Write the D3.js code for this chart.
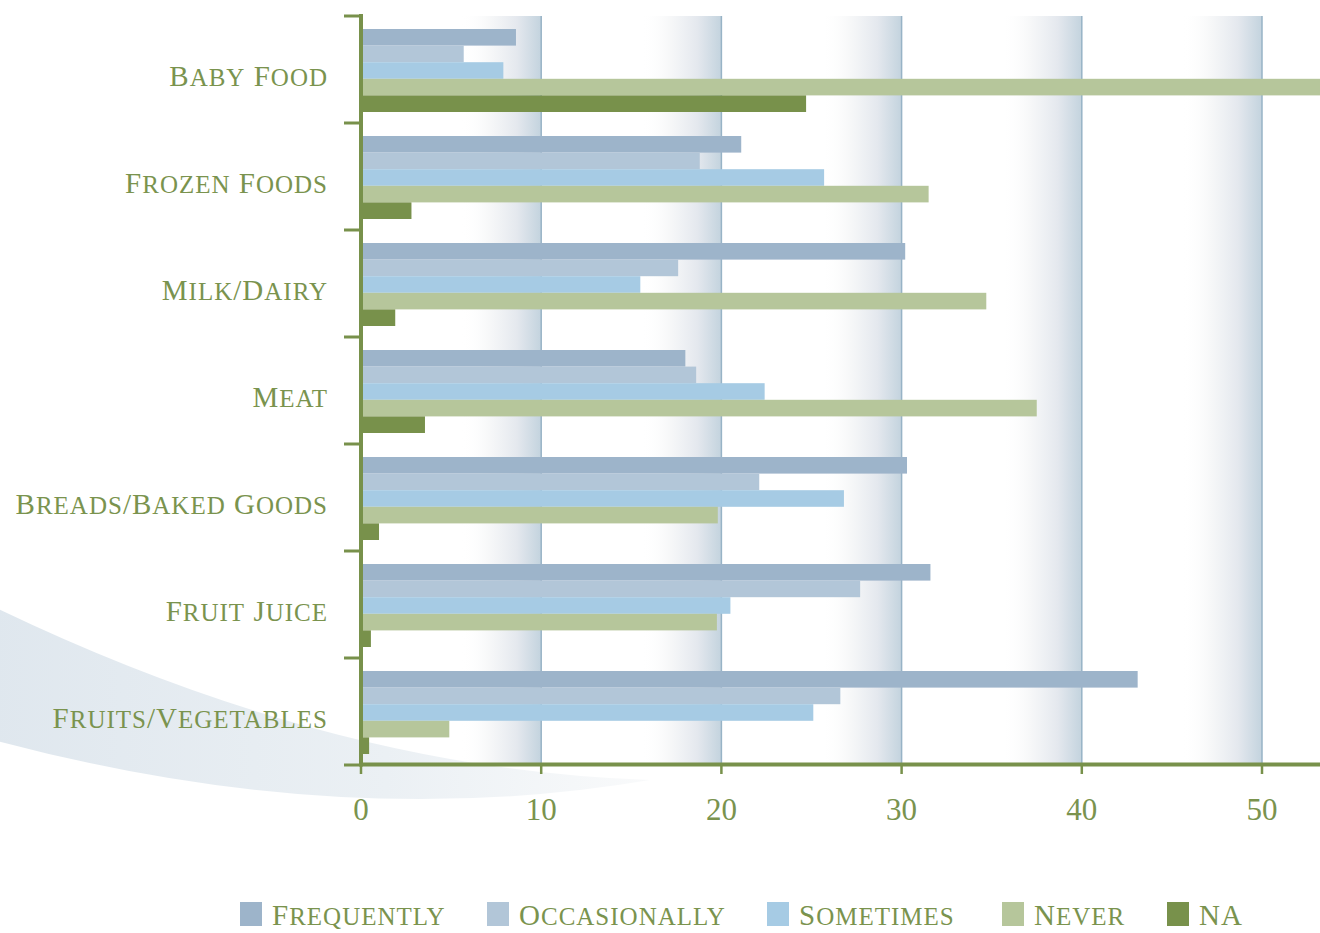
<!DOCTYPE html>
<html>
<head>
<meta charset="utf-8">
<script src="https://cdn.jsdelivr.net/npm/d3@7"></script>
<style>
  html, body { margin: 0; padding: 0; background: #ffffff; }
  svg { display: block; }
  .lbl { font-family: "Liberation Serif", serif; font-variant: small-caps; fill: #7a934e; }
</style>
</head>
<body>
<svg id="chart" width="1320" height="933"></svg>
<script>
const categories = ["Baby Food", "Frozen Foods", "Milk/Dairy", "Meat", "Breads/Baked Goods", "Fruit Juice", "Fruits/Vegetables"];
const seriesNames = ["Frequently", "Occasionally", "Sometimes", "Never", "NA"];
const frequently   = [8.6, 21.1, 30.2, 18.0, 30.3, 31.6, 43.1];
const occasionally = [5.7, 18.8, 17.6, 18.6, 22.1, 27.7, 26.6];
const sometimes    = [7.9, 25.7, 15.5, 22.4, 26.8, 20.5, 25.1];
const never        = [58.0, 31.5, 34.7, 37.5, 19.8, 19.75, 4.9];
const na           = [24.7, 2.8, 1.9, 3.55, 1.0, 0.55, 0.45];
const tickValues = [0, 10, 20, 30, 40, 50];
const colors = ["#9db4ca", "#b2c6d8", "#a6cbe4", "#b6c69b", "#78914b"];
const green = "#78914b";

const seriesValues = [frequently, occasionally, sometimes, never, na];

const svg = d3.select("#chart");
const defs = svg.append("defs");

// swoosh gradient
const sg = defs.append("linearGradient").attr("id", "swoosh").attr("x1", "0").attr("x2", "1").attr("y1", "0").attr("y2", "0");
sg.append("stop").attr("offset", "0").attr("stop-color", "#dfe7ee");
sg.append("stop").attr("offset", "0.6").attr("stop-color", "#ebf0f4");
sg.append("stop").attr("offset", "1").attr("stop-color", "#f9fafb");

// band gradient
const bg = defs.append("linearGradient").attr("id", "band").attr("x1", "0").attr("x2", "1").attr("y1", "0").attr("y2", "0");
bg.append("stop").attr("offset", "0").attr("stop-color", "#ffffff").attr("stop-opacity", 0);
bg.append("stop").attr("offset", "0.35").attr("stop-color", "#f6f7f8").attr("stop-opacity", 0.9);
bg.append("stop").attr("offset", "0.7").attr("stop-color", "#e4e8ee").attr("stop-opacity", 1);
bg.append("stop").attr("offset", "1").attr("stop-color", "#c3d3de").attr("stop-opacity", 1);

const x = d3.scaleLinear().domain([0, 50]).range([361, 1262]);
const y = d3.scaleBand().domain(categories).range([16, 765]).padding(0);
const yInner = d3.scaleBand().domain(seriesNames).range([13, 96]).padding(0);

// small-caps text helper: lowercase runs get a larger size so the synthesized small caps are tall
function smallCaps(sel, base) {
  sel.each(function(d) {
    const t = d3.select(this);
    const parts = String(d).match(/[a-z]+|[^a-z]+/g) || [];
    parts.forEach(p => {
      t.append("tspan")
        .attr("font-size", /[a-z]/.test(p) ? base * 1.24 : base)
        .text(p);
    });
  });
}

// background swoosh
svg.append("path")
  .attr("d", "M-10,605 Q330,770 650,780 Q338,833 -10,739 Z")
  .attr("fill", "url(#swoosh)");

// gradient bands + gridlines
const plotTop = y.range()[0], plotBottom = y.range()[1];
const bandW = 80;
svg.append("g").selectAll("rect")
  .data(tickValues.slice(1))
  .join("rect")
  .attr("x", d => x(d) - bandW)
  .attr("y", plotTop)
  .attr("width", bandW)
  .attr("height", plotBottom - plotTop)
  .attr("fill", "url(#band)");
svg.append("g").selectAll("line")
  .data(tickValues.slice(1))
  .join("line")
  .attr("x1", d => x(d)).attr("x2", d => x(d))
  .attr("y1", plotTop).attr("y2", plotBottom)
  .attr("stroke", "#97b3c6").attr("stroke-width", 1.5);

// bars
const groups = svg.append("g").selectAll("g")
  .data(categories)
  .join("g")
  .attr("transform", d => `translate(0,${y(d)})`);
groups.selectAll("rect")
  .data((c, ci) => seriesNames.map((s, si) => ({ s, si, v: seriesValues[si][ci] })))
  .join("rect")
  .attr("x", x(0))
  .attr("y", d => yInner(d.s))
  .attr("width", d => x(d.v) - x(0))
  .attr("height", yInner.bandwidth())
  .attr("fill", d => colors[d.si]);

// y axis
const ax = svg.append("g");
ax.append("line").attr("x1", x(0)).attr("x2", x(0)).attr("y1", plotTop - 2).attr("y2", plotBottom + 1.5)
  .attr("stroke", green).attr("stroke-width", 4);
const yTicks = categories.map(c => y(c)).concat([plotBottom]);
ax.selectAll(".yt").data(yTicks).join("line").attr("class", "yt")
  .attr("x1", 344).attr("x2", x(0)).attr("y1", d => d).attr("y2", d => d)
  .attr("stroke", green).attr("stroke-width", 3);

// x axis
ax.append("line").attr("x1", x(0)).attr("x2", 1320).attr("y1", plotBottom - 0.5).attr("y2", plotBottom - 0.5)
  .attr("stroke", green).attr("stroke-width", 4);
ax.selectAll(".xt").data(tickValues).join("line").attr("class", "xt")
  .attr("x1", d => x(d)).attr("x2", d => x(d)).attr("y1", plotBottom).attr("y2", plotBottom + 9)
  .attr("stroke", green).attr("stroke-width", 2.5);
ax.selectAll(".xl").data(tickValues).join("text").attr("class", "lbl xl")
  .attr("x", d => x(d)).attr("y", 820).attr("text-anchor", "middle")
  .attr("font-size", 31).text(d => d);

// category labels
svg.append("g").selectAll("text").data(categories).join("text")
  .attr("class", "lbl")
  .attr("x", 328).attr("y", d => y(d) + y.bandwidth() / 2 + 16)
  .attr("text-anchor", "end")
  .attr("font-size", 29)
  .attr("letter-spacing", 1)
  .call(smallCaps, 29);

// legend
const legendX = [240, 487, 767, 1002, 1167];
const lg = svg.append("g").selectAll("g").data(seriesNames).join("g")
  .attr("transform", (d, i) => `translate(${legendX[i]},0)`);
lg.append("rect").attr("x", 0).attr("y", 902).attr("width", 22).attr("height", 24)
  .attr("fill", (d, i) => colors[i]);
lg.append("text").attr("class", "lbl").attr("x", 32).attr("y", 925)
  .attr("font-size", 29).attr("letter-spacing", 1).call(smallCaps, 29);
</script>
</body>
</html>
